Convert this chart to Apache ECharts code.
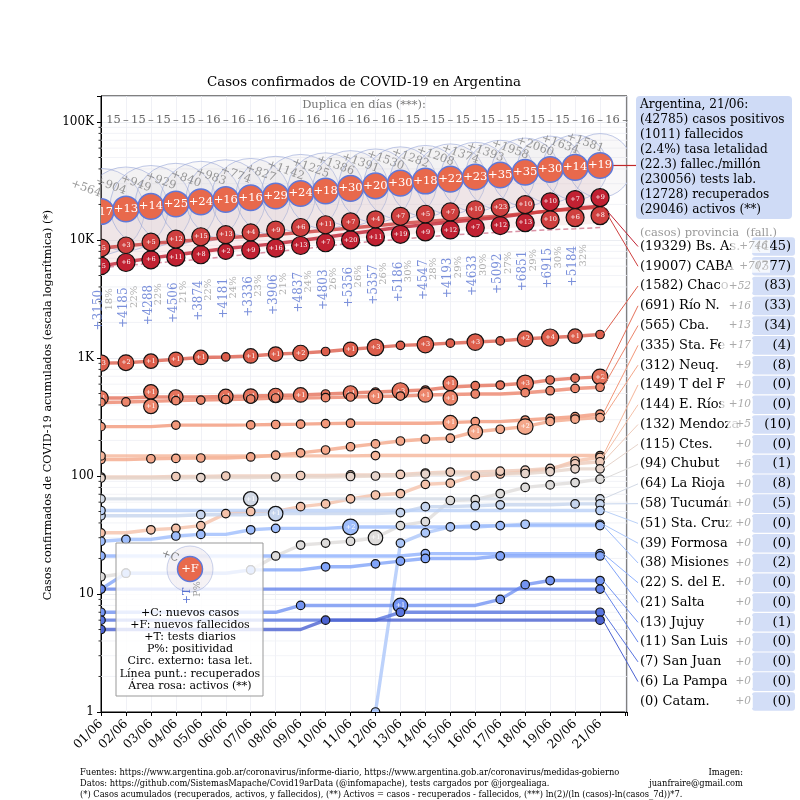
<!DOCTYPE html>
<html><head><meta charset="utf-8">
<script src="https://cdn.jsdelivr.net/npm/echarts@6/dist/echarts.min.js"></script>
<style>html,body{margin:0;padding:0;background:#fff}#c{width:800px;height:800px}</style>
</head><body><div id="c"></div>
<script>
const FONT = 'DejaVu Serif';
const FONT_COND = "'DejaVu Serif Condensed', 'DejaVu Serif'";

const dates = ['01/06','02/06','03/06','04/06','05/06','06/06','07/06','08/06','09/06','10/06','11/06','12/06','13/06','14/06','15/06','16/06','17/06','18/06','19/06','20/06','21/06'];
const arCases = [17415, 18319, 19268, 20197, 21037, 22020, 22794, 23621, 24763, 25988, 27374, 28765, 30295, 31577, 32785, 34159, 35552, 37510, 39570, 41204, 42785];
const arNewCases = [564, 904, 949, 929, 840, 983, 774, 827, 1142, 1225, 1386, 1391, 1530, 1282, 1208, 1374, 1393, 1958, 2060, 1634, 1581];
const arDeaths = [556, 569, 583, 608, 632, 648, 664, 693, 717, 735, 765, 785, 815, 833, 855, 878, 913, 948, 978, 992, 1011];
const arNewDeaths = [17, 13, 14, 25, 24, 16, 16, 29, 24, 18, 30, 20, 30, 18, 22, 23, 35, 35, 30, 14, 19];
const arRecovered = [5825, 6080, 6347, 6600, 6858, 7230, 7609, 7970, 8340, 8850, 9376, 9750, 10140, 10580, 11020, 11300, 11600, 11900, 12200, 12450, 12728];
const arTests = [3150, 4185, 4288, 4506, 3874, 4181, 3336, 3906, 4837, 4803, 5356, 5357, 5186, 4547, 4193, 4633, 5092, 6851, 6915, 5184];
const arPositivity = [18, 22, 22, 21, 22, 24, 23, 21, 24, 26, 26, 26, 30, 28, 29, 30, 27, 29, 30, 32];
const doublingDays = [15, 15, 15, 15, 16, 16, 16, 16, 16, 16, 16, 16, 15, 15, 15, 15, 15, 15, 15, 16, 16];
const yTickLabels = {0: '1', 1: '10', 2: '100', 3: '1K', 4: '10K', 5: '100K'};

const summaryLines = ['Argentina, 21/06:', '(42785) casos positivos', '(1011) fallecidos', '(2.4%) tasa letalidad', '(22.3) fallec./millón', '(230056) tests lab.', '(12728) recuperados', '(29046) activos (**)'];

const provNames = ['Bs. As.', 'CABA', 'Chaco', 'Río N.', 'Cba.', 'Sta. Fe', 'Neuq.', 'T del F', 'E. Ríos', 'Mendoza', 'Ctes.', 'Chubut', 'La Rioja', 'Tucumán', 'Sta. Cruz', 'Formosa', 'Misiones', 'S. del E.', 'Salta', 'Jujuy', 'San Luis', 'San Juan', 'La Pampa', 'Catam.'];
const provTotals = [19329, 19007, 1582, 691, 565, 335, 312, 149, 144, 132, 115, 94, 64, 58, 51, 39, 38, 22, 21, 13, 11, 7, 6, 0];
const provNewToday = [746, 707, 52, 16, 13, 17, 9, 0, 10, 5, 0, 6, 0, 0, 0, 0, 0, 0, 0, 0, 0, 0, 0, 0];
const provDeathsTotal = [445, 377, 83, 33, 34, 4, 8, 0, 0, 10, 0, 1, 8, 5, 0, 0, 2, 0, 0, 1, 0, 0, 0, 0];

const casesBsAs = [6033, 6510, 7011, 7500, 7944, 8463, 8871, 9307, 9910, 10556, 11287, 12021, 12828, 13504, 14142, 14867, 15601, 16634, 17721, 18583, 19329];
const casesCABA = [8560, 8930, 9319, 9699, 10043, 10446, 10762, 11101, 11569, 12070, 12637, 13207, 13833, 14358, 14853, 15416, 15986, 16787, 17631, 18300, 19007];
const casesChaco = [905, 912, 940, 975, 1010, 1020, 1040, 1080, 1100, 1135, 1185, 1230, 1280, 1300, 1335, 1365, 1395, 1455, 1490, 1530, 1582];
const casesRioNegro = [458, 458, 467, 467, 467, 472, 476, 481, 486, 495, 505, 515, 525, 535, 568, 582, 590, 610, 651, 675, 691];
const casesCordoba = [420, 424, 430, 435, 440, 445, 449, 458, 458, 461, 467, 472, 476, 486, 491, 495, 495, 508, 528, 552, 565];
const casesSantaFe = [262, 262, 262, 270, 270, 270, 271, 273, 275, 278, 280, 280, 280, 280, 283, 289, 289, 298, 308, 318, 335];
const casesNeuquen = [138, 138, 140, 141, 142, 142, 145, 150, 157, 166, 177, 187, 198, 205, 209, 237, 249, 262, 290, 303, 312];
const casesTdF = [148, 148, 148, 148, 148, 148, 148, 148, 148, 148, 148, 149, 149, 149, 149, 149, 149, 149, 149, 149, 149];
const casesEntreRios = [33, 33, 35, 36, 38, 48, 50, 50, 55, 58, 64, 69, 71, 85, 87, 100, 104, 109, 114, 134, 144];
const casesMendoza = [98, 98, 98, 99, 99, 100, 100, 100, 101, 101, 102, 102, 103, 106, 108, 108, 110, 112, 116, 127, 132];
const casesCorrientes = [96, 96, 96, 96, 97, 97, 97, 98, 98, 98, 99, 100, 100, 104, 104, 104, 104, 105, 109, 115, 115];
const casesChubut = [14, 15, 15, 15, 15, 15, 16, 21, 26, 27, 28, 30, 38, 41, 62, 63, 71, 80, 84, 88, 94];
const casesLaRioja = [64, 64, 64, 64, 64, 64, 64, 64, 64, 64, 64, 64, 64, 64, 64, 64, 64, 64, 64, 64, 64];
const casesTucuman = [46, 46, 46, 46, 47, 47, 47, 48, 48, 48, 48, 48, 49, 55, 55, 56, 57, 57, 57, 58, 58];
const casesSantaCruz = [51, 51, 51, 51, 51, 51, 51, 51, 51, 51, 51, 51, 51, 51, 51, 51, 51, 51, 51, 51, 51];
const casesFormosa = [0, 0, 0, 0, 0, 0, 0, 0, 0, 0, 0, 1, 27, 33, 37, 38, 38, 39, 39, 39, 39];
const casesMisiones = [28, 29, 29, 31, 32, 32, 35, 36, 36, 36, 37, 37, 37, 37, 37, 37, 38, 38, 38, 38, 38];
const casesSantiago = [21, 21, 21, 21, 21, 21, 21, 21, 21, 21, 21, 21, 21, 22, 22, 22, 22, 22, 22, 22, 22];
const casesSalta = [11, 15, 15, 15, 15, 15, 16, 16, 16, 17, 17, 18, 19, 20, 20, 20, 21, 21, 21, 21, 21];
const casesJujuy = [7, 7, 7, 7, 7, 7, 7, 7, 8, 8, 8, 8, 8, 8, 8, 8, 9, 12, 13, 13, 13];
const casesSanLuis = [11, 11, 11, 11, 11, 11, 11, 11, 11, 11, 11, 11, 11, 11, 11, 11, 11, 11, 11, 11, 11];
const casesSanJuan = [6, 6, 6, 6, 6, 6, 6, 6, 6, 6, 6, 6, 7, 7, 7, 7, 7, 7, 7, 7, 7];
const casesLaPampa = [5, 5, 5, 5, 5, 5, 5, 5, 5, 6, 6, 6, 6, 6, 6, 6, 6, 6, 6, 6, 6];
const casesCatamarca = [0, 0, 0, 0, 0, 0, 0, 0, 0, 0, 0, 0, 0, 0, 0, 0, 0, 0, 0, 0, 0];

const deathsBsAs = [5, 6, 6, 11, 8, 2, 9, 16, 13, 7, 20, 11, 19, 9, 12, 7, 12, 13, 10, 7, 9];
const deathsCABA = [5, 3, 5, 12, 15, 13, 4, 9, 6, 11, 7, 4, 7, 5, 7, 10, 23, 10, 10, 6, 8];
const deathsChaco = [3, 2, 1, 1, 1, 0, 1, 1, 2, 0, 1, 3, 0, 3, 0, 3, 0, 2, 4, 1, 0];
const deathsRioNegro = [1, 0, 1, 1, 0, 1, 1, 1, 1, 0, 1, 0, 3, 0, 1, 0, 0, 3, 0, 0, 2];
const deathsCordoba = [0, 0, 1, 0, 0, 0, 0, 0, 0, 0, 0, 1, 0, 1, 1, 0, 0, 0, 0, 0, 0];
const deathsSantaFe = [0, 0, 0, 0, 0, 0, 0, 0, 0, 0, 0, 0, 0, 0, 1, 0, 0, 0, 0, 0, 0];
const deathsNeuquen = [0, 0, 0, 0, 0, 0, 0, 0, 0, 0, 0, 0, 0, 0, 0, 1, 0, 2, 0, 0, 0];
const deathsChubut = [0, 0, 0, 0, 0, 0, 0, 0, 0, 0, 0, 1, 0, 0, 0, 0, 0, 0, 0, 0, 0];
const deathsLaRioja = [0, 0, 0, 0, 0, 0, 1, 0, 0, 0, 0, 0, 0, 0, 0, 0, 0, 0, 0, 0, 0];
const deathsTucuman = [0, 0, 0, 0, 0, 0, 0, 1, 0, 0, 0, 0, 0, 0, 0, 0, 0, 0, 0, 0, 0];
const deathsMisiones = [0, 0, 0, 0, 0, 0, 0, 0, 0, 0, 2, 0, 0, 0, 0, 0, 0, 0, 0, 0, 0];
const deathsJujuy = [0, 0, 0, 0, 0, 0, 0, 0, 0, 0, 0, 0, 1, 0, 0, 0, 0, 0, 0, 0, 0];
const deathsNone = [0, 0, 0, 0, 0, 0, 0, 0, 0, 0, 0, 0, 0, 0, 0, 0, 0, 0, 0, 0, 0];

const provCases = [casesBsAs, casesCABA, casesChaco, casesRioNegro, casesCordoba, casesSantaFe, casesNeuquen, casesTdF, casesEntreRios, casesMendoza, casesCorrientes, casesChubut, casesLaRioja, casesTucuman, casesSantaCruz, casesFormosa, casesMisiones, casesSantiago, casesSalta, casesJujuy, casesSanLuis, casesSanJuan, casesLaPampa, casesCatamarca];
const provDailyDeaths = [deathsBsAs, deathsCABA, deathsChaco, deathsRioNegro, deathsCordoba, deathsSantaFe, deathsNeuquen, deathsNone, deathsNone, deathsNone, deathsNone, deathsChubut, deathsLaRioja, deathsTucuman, deathsNone, deathsNone, deathsMisiones, deathsNone, deathsNone, deathsJujuy, deathsNone, deathsNone, deathsNone, deathsNone];

// ---- styling helpers ----
const CW = [[0,59,76,192],[0.125,98,130,234],[0.25,141,176,254],[0.375,184,208,249],[0.5,221,221,221],[0.625,245,196,172],[0.75,244,154,123],[0.875,222,96,77],[1,180,4,38]];
function coolwarm(t) {
  for (let k = 1; k < CW.length; k++) {
    if (t <= CW[k][0] + 1e-9) {
      const a = CW[k-1], b = CW[k], f = (t - a[0]) / (b[0] - a[0]);
      return 'rgb(' + [1,2,3].map(j => Math.round(a[j] + (b[j] - a[j]) * f)).join(',') + ')';
    }
  }
  return 'rgb(180,4,38)';
}
const provColor = p => coolwarm(0.95 * (1 - p / (provNames.length - 1)) + 0.01);
const circleSize = dd => dd > 0 ? Math.min(18, 12.5 + 2 * Math.log2(1 + dd)) : 8.5;
const AR_FILL = '#e8694c', AR_EDGE = '#5f78d8';
const ROW0 = 246.5, ROWSTEP = 19.78, LEG_X = 640, PANEL_FONT = 13;
const rowY = i => ROW0 + i * ROWSTEP;
const gridClip = cs => ({type: 'rect', shape: {x: cs.x, y: cs.y, width: cs.width, height: cs.height}});

const chart = echarts.init(document.getElementById('c'), null, {renderer: 'canvas', width: 800, height: 800});

function provinceSeries(offsets) {
  const list = [];
  provCases.forEach((arr, p) => {
    const color = provColor(p);
    if (!arr.some(v => v > 0)) return;
    list.push({
      type: 'line', silent: true, symbol: 'none', z: 3,
      data: arr.map((v, i) => [i, v > 0 ? v : null]),
      lineStyle: {color: color, width: 3.4, opacity: 0.8}
    });
    const items = [];
    arr.forEach((v, i) => {
      if (!(v > 0)) return;
      const dd = provDailyDeaths[p][i];
      if (i === 0 || i === arr.length - 1 || v !== arr[i-1] || dd > 0) {
        items.push([i, v, dd, offsets ? offsets[p][i] : 0]);
      }
    });
    list.push({
      type: 'custom', silent: true, z: 4, data: items,
      renderItem: (params, api) => {
        const cs = params.coordSys;
        const pt = api.coord([api.value(0), api.value(1)]);
        const dd = api.value(2), cy = pt[1] + api.value(3);
        const ch = [{type: 'circle', shape: {cx: pt[0], cy: cy, r: circleSize(dd) / 2},
                     style: {fill: color, stroke: '#111', lineWidth: 1.2}}];
        if (dd > 0) ch.push({type: 'text', x: pt[0], y: cy, style: {text: '+' + dd, fill: '#fff', fontSize: 6.5, fontFamily: FONT, align: 'center', verticalAlign: 'middle'}});
        return {type: 'group', children: ch, clipPath: gridClip(cs)};
      }
    });
  });
  return list;
}

function baseSeries() {
  return [
    { // minor log grid + minor ticks
      type: 'custom', silent: true, z: 1, data: [[0, 1]],
      renderItem: (params, api) => {
        const cs = params.coordSys, ch = [];
        for (let k = 0; k <= 5; k++) for (let m = 2; m <= 9; m++) {
          const v = m * Math.pow(10, k);
          if (v > 166000) continue;
          const y = api.coord([0, v])[1];
          ch.push({type: 'line', shape: {x1: cs.x, y1: y, x2: cs.x + cs.width, y2: y}, style: {stroke: '#eff0f5', lineWidth: 0.8}});
          ch.push({type: 'line', shape: {x1: cs.x - 2.5, y1: y, x2: cs.x, y2: y}, style: {stroke: '#000', lineWidth: 0.8}});
        }
        return {type: 'group', children: ch};
      }
    },
    { // active area (pink)
      type: 'custom', silent: true, z: 1, data: [[0, 1]],
      renderItem: (params, api) => {
        const cs = params.coordSys;
        const top = arCases.map((c, i) => api.coord([i, c]));
        const bot = arRecovered.map((r, i) => api.coord([i, r + arDeaths[i]])).reverse();
        return {type: 'polygon', shape: {points: top.concat(bot)}, style: {fill: 'rgba(228,170,170,0.20)'}, clipPath: gridClip(cs)};
      }
    },
    { // lethality outer circles
      type: 'custom', silent: true, z: 2,
      data: arCases.map((c, i) => [i, c, arDeaths[i] / c * 100]),
      renderItem: (params, api) => {
        const cs = params.coordSys;
        const pt = api.coord([api.value(0), api.value(1)]);
        return {type: 'circle', shape: {cx: pt[0], cy: pt[1], r: 13.5 * api.value(2)},
                style: {fill: 'rgba(215,205,215,0.14)', stroke: 'rgba(150,165,215,0.6)', lineWidth: 1},
                clipPath: gridClip(cs)};
      }
    },
    { // recovered dashed line
      type: 'line', silent: true, symbol: 'none', z: 3,
      data: arRecovered.map((v, i) => [i, v]),
      lineStyle: {color: 'rgba(205,110,135,0.75)', width: 1.5, type: [5, 3]}
    },
    { // +C labels
      type: 'scatter', silent: true, z: 6, symbolSize: 2,
      data: arCases.map((c, i) => ({value: [i, c], lbl: '+' + arNewCases[i]})),
      itemStyle: {color: 'rgba(0,0,0,0)'},
      label: {show: true, position: [-14, -22], align: 'center', verticalAlign: 'middle', rotate: -20,
              color: '#808080', fontSize: 11.5, fontFamily: FONT, formatter: q => q.data.lbl}
    },
    { // Argentina circles (new deaths inside)
      type: 'custom', silent: true, z: 7,
      data: arCases.map((c, i) => [i, c, arNewDeaths[i]]),
      renderItem: (params, api) => {
        const cs = params.coordSys;
        const pt = api.coord([api.value(0), api.value(1)]);
        return {type: 'group', clipPath: gridClip(cs), children: [
          {type: 'circle', shape: {cx: pt[0], cy: pt[1], r: 12.8}, style: {fill: AR_FILL, stroke: AR_EDGE, lineWidth: 1.5}},
          {type: 'text', x: pt[0], y: pt[1], style: {text: '+' + api.value(2), fill: '#fff', fontSize: 11.5, fontFamily: FONT, align: 'center', verticalAlign: 'middle'}}
        ]};
      }
    },
    { // daily tests labels
      type: 'scatter', silent: true, z: 6, symbolSize: 2,
      data: arTests.map((t, i) => ({value: [i, arCases[i] / 10], lbl: '+' + t})),
      itemStyle: {color: 'rgba(0,0,0,0)'},
      label: {show: true, position: [-1, 2], align: 'left', verticalAlign: 'middle', rotate: 90,
              color: '#5a74d2', fontSize: 12, fontFamily: FONT, formatter: q => q.data.lbl}
    },
    { // positivity labels
      type: 'scatter', silent: true, z: 6, symbolSize: 2,
      data: arPositivity.map((p, i) => ({value: [i, arCases[i] / 10], lbl: p + '%'})),
      itemStyle: {color: 'rgba(0,0,0,0)'},
      label: {show: true, position: [9, -18], align: 'left', verticalAlign: 'middle', rotate: 90,
              color: '#999', fontSize: 10, fontFamily: FONT, formatter: q => q.data.lbl}
    },
    { // doubling days row
      type: 'custom', silent: true, z: 6,
      data: doublingDays.map((d, i) => [i, 1, d]),
      renderItem: (params, api) => {
        const cs = params.coordSys;
        const x0 = api.coord([api.value(0), 1])[0];
        const x1 = api.coord([api.value(0) + 1, 1])[0];
        const y = cs.y + 24;
        return {type: 'group', children: [
          {type: 'text', x: (x0 + x1) / 2, y: y, style: {text: String(api.value(2)), fill: '#666', fontSize: 11.5, fontFamily: FONT, align: 'center', verticalAlign: 'middle'}},
          {type: 'text', x: x1, y: y, style: {text: '–', fill: '#666', fontSize: 11.5, fontFamily: FONT, align: 'center', verticalAlign: 'middle'}}
        ]};
      }
    },
    { // leader lines to the right-hand legend
      type: 'custom', silent: true, z: 5, data: [[0, 1]],
      renderItem: (params, api) => {
        const ch = [];
        const last = arCases.length - 1;
        const a = api.coord([last, arCases[last]]);
        ch.push({type: 'line', shape: {x1: a[0] + 12, y1: a[1], x2: 636, y2: a[1]}, style: {stroke: '#c0282a', lineWidth: 1.2}});
        provCases.forEach((arr, p) => {
          const v = arr[last];
          if (!(v > 0)) return;
          const pt = api.coord([last, v]);
          ch.push({type: 'line', shape: {x1: pt[0] + 3, y1: pt[1], x2: 638, y2: rowY(p)}, style: {stroke: provColor(p), lineWidth: 1}});
        });
        return {type: 'group', children: ch};
      }
    }
  ];
}

function txt(x, y, text, o) {
  o = o || {};
  return {type: 'text', x: x, y: y, z: o.z || 60, rotation: o.rotation || 0, silent: true,
          style: Object.assign({text: text, fill: '#000', fontSize: 11.5, fontFamily: FONT, align: 'left', verticalAlign: 'middle'}, o.style || {})};
}

function graphics() {
  const g = [];
  g.push(txt(364, 83, 'Casos confirmados de COVID-19 en Argentina', {style: {fontSize: 13.4, align: 'center'}}));
  g.push(txt(364, 105, 'Duplica en días (***):', {style: {fontSize: 11.5, fill: '#777', align: 'center'}}));
  g.push(txt(48, 405, 'Casos confirmados de COVID-19 acumulados (escala logarítmica) (*)', {rotation: Math.PI / 2, style: {fontSize: 11.2, align: 'center'}}));
  // summary box
  g.push({type: 'rect', z: 55, silent: true, shape: {x: 636, y: 96, width: 156, height: 123, r: 4}, style: {fill: '#cfdbf6'}});
  summaryLines.forEach((s, i) => g.push(txt(640, 104.5 + i * 15, s, {z: 56, style: {fontSize: 12.2}})));
  // province legend
  g.push(txt(LEG_X, 233, '(casos) provincia', {style: {fill: '#999', fontSize: 11.5}}));
  g.push(txt(746, 233, '(fall.)', {style: {fill: '#999', fontSize: 11.5}}));
  provNames.forEach((n, i) => {
    const y = rowY(i);
    g.push(txt(LEG_X, y, '(' + provTotals[i] + ') ' + n, {z: 56, style: {fontSize: PANEL_FONT}}));
    g.push({type: 'rect', z: 56, silent: true, shape: {x: 752, y: y - 9.3, width: 43, height: 18.6, r: 3}, style: {fill: '#d3def7'}});
    g.push(txt(791, y, '(' + provDeathsTotal[i] + ')', {z: 57, style: {fontSize: PANEL_FONT, align: 'right'}}));
    const right = provNewToday[i] >= 100 ? 770 : 753;
    g.push(txt(right, y, '+' + provNewToday[i], {z: 58, style: {fill: '#aaa', fontSize: 10.5, fontStyle: 'italic', align: 'right', backgroundColor: 'rgba(255,255,255,0.78)', padding: [1, 2, 1, 8]}}));
  });
  // legend box
  g.push({type: 'rect', z: 50, silent: true, shape: {x: 116, y: 543, width: 147, height: 153}, style: {fill: 'rgba(255,255,255,0.82)', stroke: '#999', lineWidth: 1}});
  g.push({type: 'circle', z: 51, silent: true, shape: {cx: 190, cy: 569, r: 23}, style: {fill: 'rgba(215,205,215,0.25)', stroke: 'rgba(150,165,215,0.5)', lineWidth: 1}});
  g.push({type: 'circle', z: 52, silent: true, shape: {cx: 190, cy: 569, r: 12.5}, style: {fill: AR_FILL, stroke: AR_EDGE, lineWidth: 1.5}});
  g.push(txt(190, 569, '+F', {z: 53, style: {fill: '#fff', fontSize: 11.5, align: 'center'}}));
  g.push(txt(170, 556, '+C', {z: 53, rotation: -20 * Math.PI / 180, style: {fill: '#808080', fontSize: 11, align: 'center'}}));
  g.push(txt(187.5, 596, '+T', {z: 53, rotation: Math.PI / 2, style: {fill: '#5a74d2', fontSize: 11, align: 'center'}}));
  g.push(txt(198, 589, 'P%', {z: 53, rotation: Math.PI / 2, style: {fill: '#999', fontSize: 9.5, align: 'center'}}));
  const legLines = ['+C: nuevos casos', '+F: nuevos fallecidos', '+T: tests diarios', 'P%: positividad', 'Circ. externo: tasa let.', 'Línea punt.: recuperados', 'Área rosa: activos (**)'];
  legLines.forEach((s, i) => g.push(txt(190, 612.7 + i * 12.2, s, {z: 53, style: {fontSize: 11, align: 'center'}})));
  // footer
  const foot = ['Fuentes: https://www.argentina.gob.ar/coronavirus/informe-diario, https://www.argentina.gob.ar/coronavirus/medidas-gobierno',
                'Datos: https://github.com/SistemasMapache/Covid19arData (@infomapache), tests cargados por @jorgealiaga.',
                '(*) Casos acumulados (recuperados, activos, y fallecidos), (**) Activos = casos - recuperados - fallecidos, (***) ln(2)/(ln (casos)-ln(casos_7d))*7.'];
  foot.forEach((s, i) => g.push(txt(80, 773 + i * 11, s, {style: {fontSize: 9.25, fontFamily: FONT_COND}})));
  g.push(txt(743, 773, 'Imagen:', {style: {fontSize: 9.25, fontFamily: FONT_COND, align: 'right'}}));
  g.push(txt(743, 784, 'juanfraire@gmail.com', {style: {fontSize: 9.25, fontFamily: FONT_COND, align: 'right'}}));
  return g;
}

function buildOption(offsets) {
  return {
    animation: false,
    backgroundColor: '#fff',
    grid: {left: 101, right: 173, top: 96, bottom: 88, show: true, borderColor: '#000', borderWidth: 1, backgroundColor: '#fff'},
    xAxis: {
      type: 'value', min: 0, max: 21.08, interval: 1,
      axisLine: {lineStyle: {color: '#000', width: 1}},
      axisTick: {length: 4, lineStyle: {color: '#000'}},
      axisLabel: {rotate: 45, fontSize: 12.3, fontFamily: FONT, color: '#000', margin: 10,
        formatter: v => { const i = Math.round(v); return (Math.abs(v - i) < 1e-6 && i >= 0 && i < dates.length) ? dates[i] : ''; }},
      splitLine: {show: true, lineStyle: {color: '#eceef4', width: 0.8}}
    },
    yAxis: {
      type: 'log', logBase: 10, min: 1, max: 166000,
      axisLine: {show: true, lineStyle: {color: '#000', width: 1}},
      axisTick: {show: true, length: 4, lineStyle: {color: '#000'}},
      axisLabel: {fontSize: 12, fontFamily: FONT, color: '#000', margin: 7,
        formatter: v => { const e = Math.log10(v), r = Math.round(e); return Math.abs(e - r) < 1e-6 && yTickLabels[r] !== undefined ? yTickLabels[r] : ''; }},
      splitLine: {show: true, lineStyle: {color: '#e6e8ef', width: 0.8}}
    },
    series: baseSeries().concat(provinceSeries(offsets)),
    graphic: graphics()
  };
}

chart.setOption(buildOption(null));

// separate overlapping labelled circles of the same day (vertical repel)
function computeOffsets() {
  const offs = provCases.map(a => a.map(() => 0));
  for (let d = 0; d < dates.length; d++) {
    const items = [];
    provCases.forEach((arr, p) => {
      const v = arr[d], dd = provDailyDeaths[p][d];
      if (v > 0 && dd > 0) {
        const y = chart.convertToPixel({gridIndex: 0}, [d, v])[1];
        items.push({p: p, y0: y, y: y, r: circleSize(dd) / 2});
      }
    });
    items.sort((a, b) => a.y - b.y);
    for (let it = 0; it < 60; it++) {
      let moved = false;
      for (let k = 0; k < items.length - 1; k++) {
        const A = items[k], B = items[k + 1];
        const need = (A.r + B.r) - (B.y - A.y);
        if (need > 0.05) { A.y -= need / 2; B.y += need / 2; moved = true; }
      }
      if (!moved) break;
    }
    items.forEach(o => { offs[o.p][d] = o.y - o.y0; });
  }
  return offs;
}
chart.setOption(buildOption(computeOffsets()), {notMerge: true});
</script></body></html>
